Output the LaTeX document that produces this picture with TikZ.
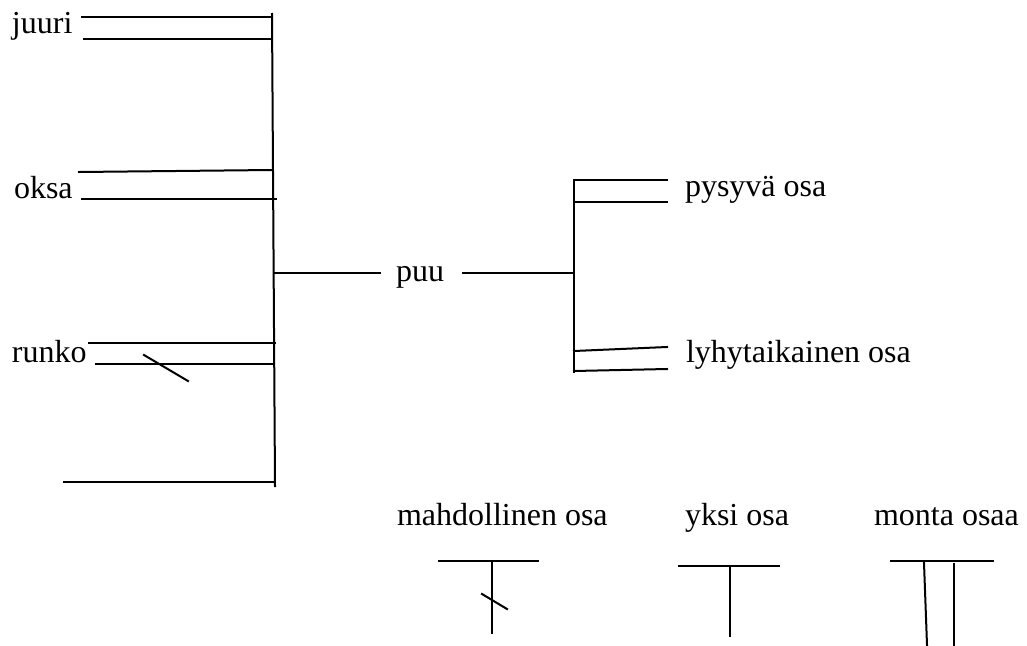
\documentclass[tikz,border=0pt]{standalone}
\usepackage{fontspec}
\setmainfont{Liberation Serif}
\usepackage{tikz}

\begin{document}
\begin{tikzpicture}[x=1pt,y=-1pt,line cap=rect,
		wire/.style={line width=2.0pt, black},
		lbl/.style={inner sep=0, outer sep=0, anchor=base west, font=\fontsize{32pt}{32pt}\selectfont}]
				\useasboundingbox (0,0) rectangle (1027,645);
				% texts
				\node[lbl] (juuri) at (12.0,33.0) {juuri};
				\node[lbl] (oksa) at (14.0,198.0) {oksa};
				\node[lbl] (runko) at (12.0,362.0) {runko};
				\node[lbl] (puu) at (396.0,281.0) {puu};
				\node[lbl] (pysyva) at (685.0,196.0) {pysyvä osa};
				\node[lbl] (lyhyt) at (686.0,362.0) {lyhytaikainen osa};
				\node[lbl] (mahd) at (397.0,525.0) {mahdollinen osa};
				\node[lbl] (yksi) at (685.0,525.0) {yksi osa};
				\node[lbl] (monta) at (874.0,525.0) {monta osaa};
				% left bar with its four ends
				\coordinate (barTop) at (272.0,14.0);
				\coordinate (barBot) at (275.0,486.0);
				\draw [wire] (barTop) -- (barBot);
				\draw [wire] (82.0,17.0) -- (272.0,17.0);
				\draw [wire] (84.0,38.5) -- (272.0,38.5);
				\draw [wire] (79.0,172.0) -- (272.0,170.0);
				\draw [wire] (82.0,199.0) -- (276.0,199.0);
				\draw [wire] (89.0,342.5) -- (275.0,342.5);
				\draw [wire] (96.0,364.0) -- (273.0,364.0);
				\draw [wire] (144.0,355.0) -- (188.0,381.0);
				\draw [wire] (64.0,481.5) -- (275.0,481.5);
				% middle
				\coordinate (puuL) at (380.0,273.0);
				\coordinate (puuR) at (463.0,273.0);
				\coordinate (forkTop) at (574.0,180.0);
				\coordinate (forkBot) at (574.0,372.0);
				\draw [wire] (274.0,273.0) -- (puuL);
				\draw [wire] (puuR) -- (574.0,273.0);
				\draw [wire] (forkTop) -- (forkBot);
				\draw [wire] (forkTop) -- (667.0,180.0);
				\draw [wire] (574.0,202.0) -- (667.0,202.0);
				\draw [wire] (574.0,351.0) -- (667.0,347.0);
				\draw [wire] (574.0,371.0) -- (667.0,369.0);
				% legend marks
				\draw [wire] (439.0,561.0) -- (538.0,561.0);
				\draw [wire] (492.0,561.0) -- (492.0,633.0);
				\draw [wire] (482.0,594.0) -- (507.0,609.0);
				\draw [wire] (679.0,566.0) -- (779.0,566.0);
				\draw [wire] (730.0,567.0) -- (730.0,636.0);
				\draw [wire] (891.0,561.0) -- (993.0,561.0);
				\draw [wire] (924.0,563.0) -- (927.0,645.0);
				\draw [wire] (954.0,564.0) -- (954.0,645.0);
			\end{tikzpicture}
\end{document}
